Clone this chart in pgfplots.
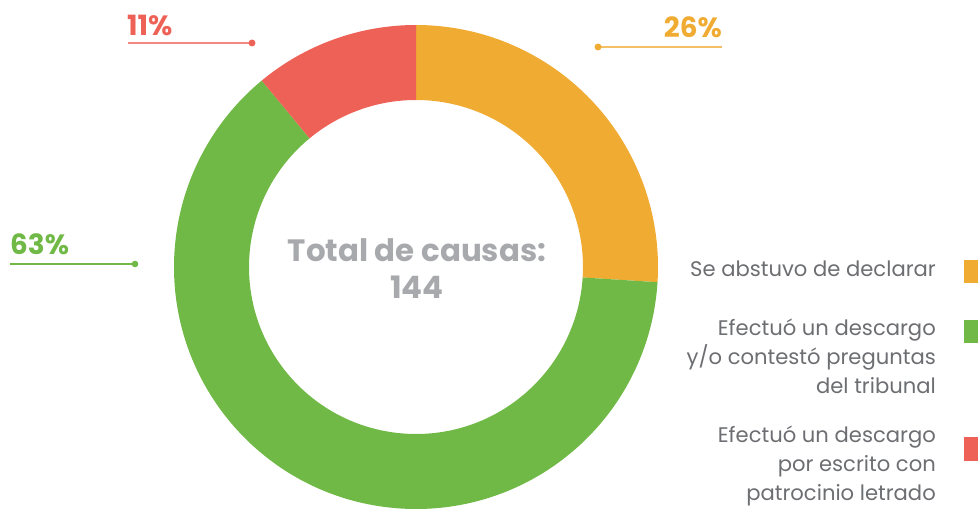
\documentclass[border=0pt]{standalone}
\usepackage{pgfplots}
\pgfplotsset{compat=1.18}
\usepackage{fontspec}
\setmainfont{Poppins}
\definecolor{cOr}{HTML}{F0AB33}
\definecolor{cGr}{HTML}{70B946}
\definecolor{cRd}{HTML}{EE6157}
\definecolor{cTxt}{HTML}{6D6E71}
\definecolor{cCen}{HTML}{A7A9AC}
% data (percent of 144 causes)
\def\valA{26}\def\valB{63}\def\valC{11}
\pgfmathsetmacro{\aA}{90}
\pgfmathsetmacro{\aB}{\aA-3.6*\valA}
\pgfmathsetmacro{\aC}{\aB-3.6*\valB}
\pgfmathsetmacro{\aD}{\aC-3.6*\valC}
\def\Ro{242bp}\def\Ri{167bp}\def\Rd{-75bp}
\begin{document}
\begin{tikzpicture}
\begin{axis}[
  scale only axis, width=978bp, height=514bp,
  xmin=0, xmax=978, ymin=0, ymax=514,
  axis lines=none, clip=true,
]
\path (axis cs:0,0) rectangle (axis cs:978,514);
% donut sectors
\fill[cOr] (axis cs:416,247) ++(\aA:\Ro) arc[start angle=\aA, end angle=\aB, radius=\Ro] -- ++(\aB:\Rd) arc[start angle=\aB, end angle=\aA, radius=\Ri] -- cycle;
\fill[cGr] (axis cs:416,247) ++(\aB:\Ro) arc[start angle=\aB, end angle=\aC, radius=\Ro] -- ++(\aC:\Rd) arc[start angle=\aC, end angle=\aB, radius=\Ri] -- cycle;
\fill[cRd] (axis cs:416,247) ++(\aC:\Ro) arc[start angle=\aC, end angle=\aD, radius=\Ro] -- ++(\aD:\Rd) arc[start angle=\aD, end angle=\aC, radius=\Ri] -- cycle;
% leader lines
\addplot[cRd!75, line width=1.6bp, mark=*, mark size=2.6bp, mark options={fill=cRd, draw=cRd}, mark indices={2}] coordinates {(128,471) (252,471)};
\addplot[cOr!75, line width=1.6bp, mark=*, mark size=2.6bp, mark options={fill=cOr, draw=cOr}, mark indices={1}] coordinates {(598,467) (722,467)};
\addplot[cGr, line width=1.3bp, mark=*, mark size=2.6bp, mark options={fill=cGr, draw=cGr}, mark indices={2}] coordinates {(10,250) (135,250)};
% percent labels
\node[anchor=base west, inner sep=0, text=cRd, font=\fontsize{28}{28}\selectfont\bfseries] at (axis cs:127,478) {11\%};
\node[anchor=base east, inner sep=0, text=cOr, font=\fontsize{28}{28}\selectfont\bfseries] at (axis cs:722,476) {26\%};
\node[anchor=base west, inner sep=0, text=cGr, font=\fontsize{28}{28}\selectfont\bfseries] at (axis cs:10,259) {63\%};
% center text
\node[align=center, inner sep=0, text=cCen, font=\fontsize{31}{37}\selectfont\bfseries] at (axis cs:417,245) {Total de causas:\\144};
% legend
\node[anchor=east, align=right, inner sep=0, text=cTxt, font=\fontsize{21.2}{29}\selectfont] at (axis cs:936,245) {Se abstuvo de declarar};
\node[anchor=east, align=right, inner sep=0, text=cTxt, font=\fontsize{21.2}{29}\selectfont] at (axis cs:936,158) {Efectuó un descargo\\y/o contestó preguntas\\del tribunal};
\node[anchor=east, align=right, inner sep=0, text=cTxt, font=\fontsize{21.2}{29}\selectfont] at (axis cs:936,48) {Efectuó un descargo\\por escrito con\\patrocinio letrado};
\fill[cOr] (axis cs:964,231) rectangle (axis cs:978,254);
\fill[cGr] (axis cs:964,171) rectangle (axis cs:978,194);
\fill[cRd] (axis cs:964,53) rectangle (axis cs:978,77);
\end{axis}
\end{tikzpicture}
\end{document}
